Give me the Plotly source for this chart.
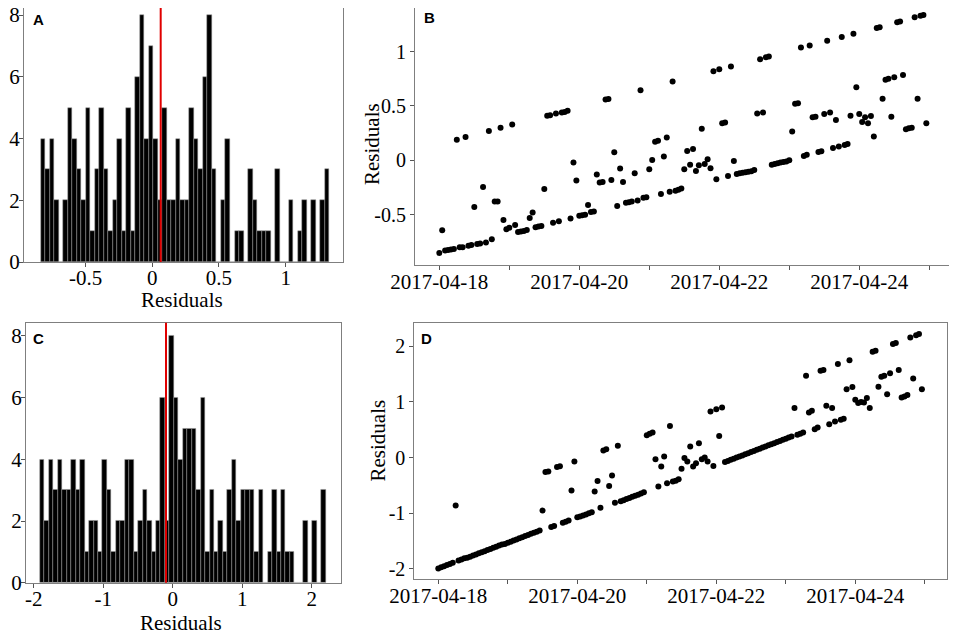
import pandas as pd
import plotly.graph_objects as go

# ---- panel A: histogram of residuals, model 1 (64 equal bins) ----
a_counts = [4, 3, 4, 2, 0, 2, 5, 4, 3, 2,
            5, 1, 3, 5, 3, 1, 2, 4, 1, 5,
            1, 6, 8, 4, 7, 4, 2, 5, 2, 2,
            4, 2, 2, 5, 4, 3, 6, 8, 3, 0,
            2, 4, 0, 1, 1, 0, 3, 2, 1, 1,
            1, 0, 3, 0, 0, 2, 0, 1, 2, 0,
            2, 0, 2, 3]
a_bin_start = -0.837
a_bin_width = 0.0338
a_mean = 0.063

# ---- panel C: histogram of residuals, model 2 ----
c_counts = [4, 2, 4, 3, 4, 3, 3, 4, 3, 4,
            1, 2, 2, 1, 4, 3, 1, 2, 2, 4,
            4, 1, 2, 3, 2, 1, 2, 6, 2, 8,
            6, 4, 5, 5, 5, 3, 6, 1, 3, 1,
            2, 1, 3, 4, 2, 3, 3, 3, 1, 3,
            0, 1, 3, 1, 3, 1, 1, 0, 0, 2,
            0, 2, 0, 3]
c_bin_start = -1.909
c_bin_width = 0.0642
c_mean = -0.096

# ---- panels B and D: hourly residuals 2017-04-18 .. 2017-04-24 ----
b_resid = [
    -0.853, -0.644, -0.83, -0.825, -0.82, -0.815, 0.19, -0.80, -0.80, 0.215,
    -0.785, -0.78, -0.43, -0.77, -0.765, -0.245, -0.755, 0.27, -0.725, -0.38,
    -0.38, 0.30, -0.55, -0.635, -0.62, 0.33, -0.595, -0.66, -0.655, -0.65,
    -0.64, -0.53, -0.48, -0.615, -0.61, -0.605, -0.265, 0.41, 0.415, -0.575,
    0.43, -0.56, 0.44, 0.445, 0.455, -0.535, -0.02, -0.185, -0.51, -0.505,
    -0.50, -0.41, -0.475, -0.47, -0.13, -0.205, -0.20, 0.56, 0.565, -0.18,
    0.075, -0.42, -0.075, -0.20, -0.39, -0.385, -0.38, -0.12, -0.37, 0.645,
    -0.345, -0.34, -0.083, 0.003, 0.17, 0.18, -0.31, 0.034, 0.21, -0.29,
    0.724, -0.28, -0.27, -0.26, -0.083, 0.086, -0.04, 0.104, -0.098, -0.046,
    0.29, -0.034, 0.01, -0.074, 0.82, -0.175, 0.837, 0.34, 0.347, -0.144,
    0.862, -0.006, -0.125, -0.12, -0.115, -0.11, -0.105, -0.10, -0.09, 0.43,
    0.93, 0.44, 0.947, 0.954, -0.04, -0.033, -0.027, -0.02, -0.015, -0.01,
    0.0, 0.264, 0.52, 0.525, 1.037, 0.04, 0.05, 1.055, 0.395, 0.40,
    0.077, 0.083, 0.426, 1.10, 0.44, 0.113, 0.37, 0.126, 1.135, 0.14,
    0.15, 0.41, 1.163, 0.672, 0.426, 0.353, 0.396, 0.34, 0.408, 0.218,
    1.218, 1.224, 0.567, 0.74, 0.75, 0.40, 0.764, 1.27, 1.276, 0.785,
    0.285, 0.294, 0.30, 1.316, 0.567, 1.33, 1.337, 0.34]

d_resid = [
    -1.99, -1.97, -1.95, -1.93, -1.91, -1.89, -0.86, -1.85, -1.83, -1.81,
    -1.80, -1.78, -1.76, -1.74, -1.72, -1.70, -1.68, -1.66, -1.64, -1.62,
    -1.60, -1.58, -1.56, -1.55, -1.53, -1.51, -1.49, -1.47, -1.45, -1.43,
    -1.41, -1.39, -1.37, -1.35, -1.33, -1.31, -0.95, -0.26, -0.25, -1.245,
    -1.23, -0.17, -0.155, -1.17, -1.15, -1.13, -0.59, -0.07, -1.07, -1.06,
    -1.04, -1.02, -1.00, -0.98, -0.61, -0.42, -0.90, 0.13, 0.15, -0.51,
    -0.32, -0.81, 0.215, -0.785, -0.765, -0.745, -0.725, -0.705, -0.685, -0.665,
    -0.645, -0.62, 0.40, 0.43, 0.45, -0.03, -0.52, -0.16, 0.018, -0.46,
    0.57, -0.43, -0.415, -0.39, -0.20, -0.006, -0.07, 0.20, -0.16, -0.10,
    0.26, -0.03, 0.0, -0.07, 0.83, -0.15, 0.87, 0.39, 0.90, -0.08,
    -0.06, -0.04, -0.02, 0.0, 0.02, 0.04, 0.06, 0.08, 0.10, 0.12,
    0.14, 0.16, 0.18, 0.20, 0.22, 0.24, 0.26, 0.28, 0.30, 0.32,
    0.34, 0.36, 0.38, 0.89, 0.41, 0.43, 0.45, 1.47, 0.81, 0.84,
    0.51, 0.54, 1.56, 1.575, 0.93, 0.60, 0.89, 0.65, 1.68, 0.68,
    0.70, 1.23, 1.75, 1.27, 1.04, 0.98, 1.00, 0.99, 1.07, 0.89,
    1.90, 1.92, 1.275, 1.455, 1.47, 1.14, 1.515, 2.04, 2.06, 1.575,
    1.08, 1.10, 1.125, 2.16, 1.42, 2.20, 2.22, 1.23]

times = pd.date_range("2017-04-18 00:00", periods=len(b_resid), freq="h")

day_ticks = pd.date_range("2017-04-18", "2017-04-25", freq="D")
day_labels = [d.strftime("%Y-%m-%d") if i % 2 == 0 else "" for i, d in enumerate(day_ticks)]

a_xticks = [-0.5, 0, 0.5, 1]
a_xlabels = ["-0.5", "0", "0.5", "1"]
c_xticks = [-2, -1, 0, 1, 2]
c_xlabels = ["-2", "-1", "0", "1", "2"]
hist_yticks = [0, 2, 4, 6, 8]
b_yticks = [-0.5, 0, 0.5, 1]
b_ylabels = ["-0.5", "0", "0.5", "1"]
d_yticks = [-2, -1, 0, 1, 2]
d_ylabels = ["-2", "-1", "0", "1", "2"]

serif = "Liberation Serif, Times New Roman, serif"


def centers(start, width, n):
    return [start + width * (i + 0.5) for i in range(n)]


fig = go.Figure()

bar_style = dict(color="black", line=dict(color="#9a9a9a", width=0.5))
fig.add_trace(go.Bar(x=centers(a_bin_start, a_bin_width, len(a_counts)), y=a_counts,
                     width=a_bin_width, marker=bar_style,
                     xaxis="x", yaxis="y", showlegend=False))
fig.add_trace(go.Scatter(x=times, y=b_resid, mode="markers",
                         marker=dict(color="black", size=6),
                         xaxis="x2", yaxis="y2", showlegend=False))
fig.add_trace(go.Bar(x=centers(c_bin_start, c_bin_width, len(c_counts)), y=c_counts,
                     width=c_bin_width, marker=bar_style,
                     xaxis="x3", yaxis="y3", showlegend=False))
fig.add_trace(go.Scatter(x=times, y=d_resid, mode="markers",
                         marker=dict(color="black", size=6),
                         xaxis="x4", yaxis="y4", showlegend=False))

frame = dict(showline=True, mirror=True, linecolor="#7f7f7f", linewidth=1,
             ticks="outside", ticklen=4, tickcolor="#555555", showgrid=False,
             zeroline=False, automargin=False, ticklabeloverflow="allow",
             tickfont=dict(family=serif, size=21, color="black"))
title_font = dict(family=serif, size=21, color="black")

# the page puts the figure 8px in from the window corner, so it is sized 949x624
fig.update_layout(
    width=949, height=624,
    margin=dict(l=0, r=0, t=0, b=0),
    paper_bgcolor="white", plot_bgcolor="white",
    bargap=0,
    xaxis=dict(frame, domain=[0.01686, 0.35300], range=[-0.962, 1.43],
               tickvals=a_xticks, ticktext=a_xlabels, ticklabelstandoff=-7, anchor="y"),
    yaxis=dict(frame, domain=[0.59295, 1.0], range=[0, 8.227],
               tickvals=hist_yticks, ticklabelstandoff=-5, anchor="x"),
    xaxis2=dict(frame, domain=[0.42887, 0.99442], range=["2017-04-17 15:40", "2017-04-25 07:42"],
                tickvals=day_ticks, ticktext=day_labels, ticklabelstandoff=-6, anchor="y2"),
    yaxis2=dict(frame, domain=[0.58814, 1.0], range=[-0.963, 1.401],
                tickvals=b_yticks, ticktext=b_ylabels, anchor="x2",
                tickfont=dict(family=serif, size=20, color="black")),
    xaxis3=dict(frame, domain=[0.01897, 0.35058], range=[-2.11, 2.417],
                tickvals=c_xticks, ticktext=c_xlabels, ticklabelstandoff=-7, anchor="y3"),
    yaxis3=dict(frame, domain=[0.07901, 0.49567], range=[0, 8.43],
                tickvals=hist_yticks, ticklabelstandoff=-5, anchor="x3"),
    xaxis4=dict(frame, domain=[0.42814, 0.98914], range=["2017-04-17 15:43", "2017-04-25 07:34"],
                tickvals=day_ticks, ticktext=day_labels, ticklabelstandoff=-6, anchor="y4"),
    yaxis4=dict(frame, domain=[0.08446, 0.49471], range=[-2.186, 2.413],
                tickvals=d_yticks, ticktext=d_ylabels, anchor="x4",
                tickfont=dict(family=serif, size=20, color="black")),
)

# mean residual markers
fig.add_shape(type="line", xref="x", yref="y domain", x0=a_mean, x1=a_mean, y0=0, y1=1,
              line=dict(color="#e00000", width=2))
fig.add_shape(type="line", xref="x3", yref="y3 domain", x0=c_mean, x1=c_mean, y0=0, y1=1,
              line=dict(color="#e00000", width=2))

# axis titles
for tx, ty, ang in [(0.18304, 0.53285, 0), (0.18198, 0.01443, 0),
                    (0.38356, 0.78205, -90), (0.38936, 0.30609, -90)]:
    fig.add_annotation(text="Residuals", xref="paper", yref="paper", x=tx, y=ty,
                       xanchor="center", yanchor="middle", textangle=ang,
                       showarrow=False, font=title_font)

# panel letters
for letter, ax, ay, lx, ly in [("A", "x", "y", 0.022, 0.996), ("B", "x2", "y2", 0.0136, 1.005),
                               ("C", "x3", "y3", 0.0168, 0.978), ("D", "x4", "y4", 0.0088, 0.980)]:
    fig.add_annotation(text="<b>%s</b>" % letter, xref=ax + " domain", yref=ay + " domain",
                       x=lx, y=ly, xanchor="left", yanchor="top", showarrow=False,
                       font=dict(family="Liberation Sans, Arial, sans-serif", size=15, color="black"))

fig.write_html("out.html")
